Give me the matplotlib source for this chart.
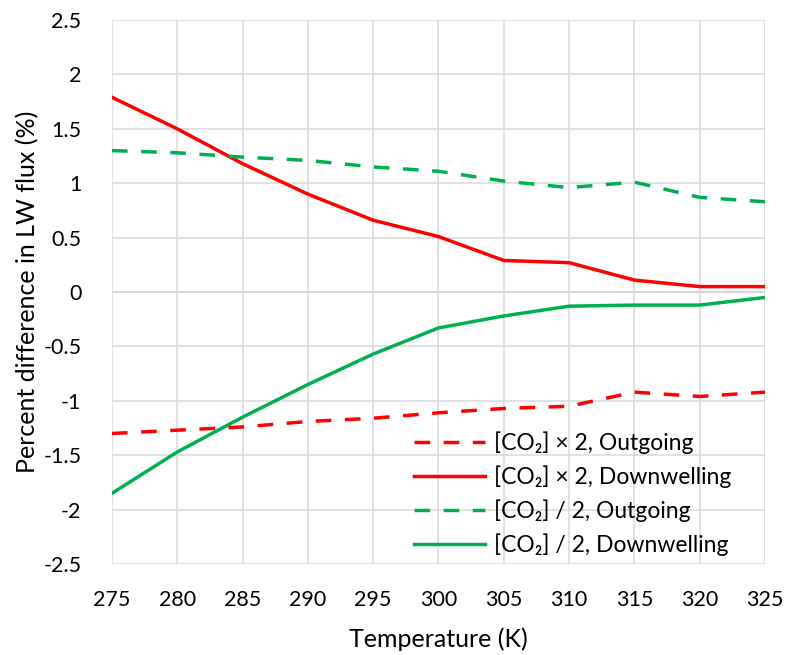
import matplotlib.pyplot as plt
import matplotlib.ticker as mticker

plt.rcParams['font.family'] = ['Lato', 'DejaVu Sans']

temps = [275, 280, 285, 290, 295, 300, 305, 310, 315, 320, 325]
x2_out = [-1.30, -1.27, -1.24, -1.19, -1.16, -1.11, -1.07, -1.05, -0.92, -0.96, -0.92]
x2_down = [1.79, 1.50, 1.18, 0.90, 0.66, 0.51, 0.29, 0.27, 0.11, 0.05, 0.05]
half_out = [1.30, 1.28, 1.24, 1.21, 1.15, 1.11, 1.02, 0.96, 1.01, 0.87, 0.83]
half_down = [-1.85, -1.47, -1.15, -0.85, -0.57, -0.33, -0.22, -0.13, -0.12, -0.12, -0.05]

red = '#FF0000'
green = '#00B050'

fig = plt.figure(figsize=(7.87, 6.55), dpi=100)
ax = fig.add_axes([0.1423, 0.1389, 0.8297, 0.8305])

lw = 2.5
dash = (4.5, 3.9)
ax.plot(temps, x2_out, color=red, lw=lw, dashes=dash, label='[CO₂] × 2, Outgoing')
ax.plot(temps, x2_down, color=red, lw=lw, label='[CO₂] × 2, Downwelling')
ax.plot(temps, half_out, color=green, lw=lw, dashes=dash, label='[CO₂] / 2, Outgoing')
ax.plot(temps, half_down, color=green, lw=lw, label='[CO₂] / 2, Downwelling')

ax.set_xlim(275, 325)
ax.set_ylim(-2.5, 2.5)
ax.set_xticks(range(275, 326, 5))
ax.set_yticks([-2.5, -2, -1.5, -1, -0.5, 0, 0.5, 1, 1.5, 2, 2.5])
ax.yaxis.set_major_formatter(mticker.FuncFormatter(lambda v, p: '%g' % v))
ax.grid(True, color='#D9D9D9', lw=1.1)
ax.set_axisbelow(True)
ax.axhline(0, color='#C6C6C6', lw=1.1, zorder=0.5)
for s in ax.spines.values():
    s.set_visible(False)
ax.tick_params(length=0, labelsize=15.5, colors='#000000')
ax.tick_params(axis='x', pad=19)
ax.tick_params(axis='y', pad=22)

ax.set_xlabel('Temperature (K)', fontsize=18, labelpad=12)
ax.set_ylabel('Percent difference in LW flux (%)', fontsize=18, labelpad=3)

ax.legend(loc='lower right', bbox_to_anchor=(0.949, 0.015), frameon=False,
          fontsize=16.5, handlelength=3.1, labelspacing=0.5, handletextpad=0.4,
          borderpad=0, borderaxespad=0)

fig.savefig('out.png', dpi=100)
